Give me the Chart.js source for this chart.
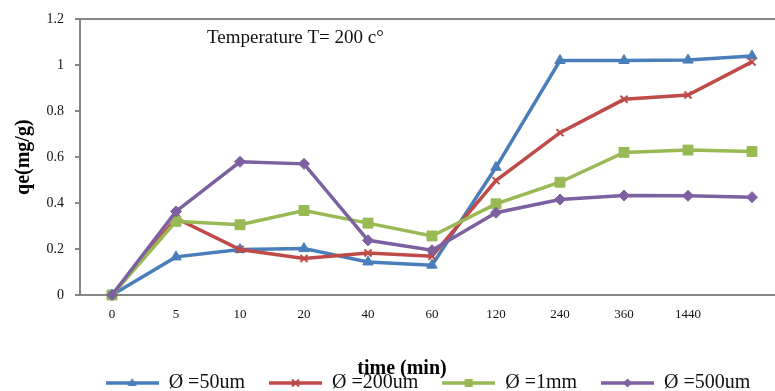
<!DOCTYPE html>
<html>
<head>
<meta charset="utf-8">
<script src="https://cdn.jsdelivr.net/npm/chart.js@4.4.0/dist/chart.umd.min.js"></script>
<style>
  html, body { margin: 0; padding: 0; background: #fff; overflow: hidden; }
  #wrap { width: 856px; height: 403px; }
</style>
</head>
<body>
<div id="wrap"><canvas id="qeChart" width="856" height="403"></canvas></div>
<script>
// ---- DATA ----
const TIME_LABELS = ['0', '5', '10', '20', '40', '60', '120', '240', '360', '1440', ''];
const SERIES_NAMES = ['Ø =50um', 'Ø =200um', 'Ø =1mm', 'Ø =500um'];
const QE_50UM = [0, 0.166, 0.198, 0.202, 0.144, 0.130, 0.556, 1.021, 1.021, 1.023, 1.041];
const QE_200UM = [0, 0.334, 0.198, 0.159, 0.183, 0.169, 0.498, 0.707, 0.852, 0.871, 1.015];
const QE_1MM = [0, 0.321, 0.306, 0.368, 0.313, 0.257, 0.397, 0.491, 0.621, 0.631, 0.625];
const QE_500UM = [0, 0.364, 0.580, 0.571, 0.238, 0.195, 0.358, 0.416, 0.433, 0.432, 0.426];
const Y_TICK_LABELS = ['0', '0.2', '0.4', '0.6', '0.8', '1', '1.2'];
const NOTE_TEXT = 'Temperature T= 200 c°';

const AXIS_GREY = '#868686';
const SERIF = '"Liberation Serif", "DejaVu Serif", serif';

// LEGEND ICON: SHORT LINE WITH THE MARKER IN THE MIDDLE
function legendIcon(color, shape) {
    const c = document.createElement('canvas');
    c.width = 53;
    c.height = 14;
    const g = c.getContext('2d');
    g.strokeStyle = color;
    g.fillStyle = color;
    g.lineWidth = 3.5;
    g.beginPath();
    g.moveTo(0, 7);
    g.lineTo(53, 7);
    g.stroke();
    const x = 26.5, y = 7;
    g.beginPath();
    if (shape === 'triangle') {
        g.moveTo(x, y - 5); g.lineTo(x + 4.5, y + 3); g.lineTo(x - 4.5, y + 3); g.closePath(); g.fill();
    } else if (shape === 'crossRot') {
        g.lineWidth = 2;
        g.moveTo(x - 3.5, y - 3.5); g.lineTo(x + 3.5, y + 3.5);
        g.moveTo(x + 3.5, y - 3.5); g.lineTo(x - 3.5, y + 3.5);
        g.stroke();
    } else if (shape === 'rect') {
        g.fillRect(x - 4, y - 4, 8, 8);
    } else {
        g.moveTo(x, y - 4.5); g.lineTo(x + 4.5, y); g.lineTo(x, y + 4.5); g.lineTo(x - 4.5, y); g.closePath(); g.fill();
    }
    return c;
}

function series(label, values, color, shape, radius, order) {
    return {
        label: label,
        data: values,
        borderColor: color,
        backgroundColor: color,
        borderWidth: 3.5,
        pointStyle: shape,
        pointRadius: radius,
        pointBorderWidth: shape === 'crossRot' ? 2 : 1,
        pointBorderColor: color,
        pointBackgroundColor: color,
        tension: 0,
        clip: false,
        order: order,
        icon: legendIcon(color, shape)
    };
}

// TEXT NOTE INSIDE THE PLOT
const notePlugin = {
    id: 'note',
    afterDraw(chart) {
        const { ctx, chartArea } = chart;
        ctx.save();
        ctx.font = '19px ' + SERIF;
        ctx.fillStyle = '#111';
        ctx.textBaseline = 'middle';
        ctx.fillText(NOTE_TEXT, chartArea.left + 127, chartArea.top + 19);
        ctx.restore();
    }
};

var ctx = document.getElementById('qeChart');
var myChart = new Chart(ctx, {
    type: 'line',
    data: {
        labels: TIME_LABELS,
        datasets: [
            series(SERIES_NAMES[0], QE_50UM, '#4A7EBB', 'triangle', 6, 4),
            series(SERIES_NAMES[1], QE_200UM, '#BE4B48', 'crossRot', 5, 3),
            series(SERIES_NAMES[2], QE_1MM, '#98B954', 'rect', 7, 2),
            series(SERIES_NAMES[3], QE_500UM, '#7D60A0', 'rectRot', 5.5, 1)
        ]
    },
    options: {
        responsive: false,
        animation: false,
        layout: { padding: { top: 18, left: 0, right: 0, bottom: 0 } },
        plugins: {
            tooltip: { enabled: false },
            legend: {
                position: 'bottom',
                labels: {
                    usePointStyle: true,
                    pointStyleWidth: 53,
                    padding: 24,
                    color: '#111',
                    font: { family: SERIF, size: 20 },
                    sort: (a, b) => a.datasetIndex - b.datasetIndex,
                    generateLabels: (chart) => {
                        const items = Chart.defaults.plugins.legend.labels.generateLabels(chart);
                        items.forEach(item => {
                            item.pointStyle = chart.data.datasets[item.datasetIndex].icon;
                        });
                        return items;
                    }
                }
            }
        },
        scales: {
            x: {
                type: 'category',
                offset: true,
                grid: { display: false, drawTicks: false },
                border: { display: true, color: AXIS_GREY, width: 2 },
                ticks: { padding: 12, color: '#111', autoSkip: false, maxRotation: 0, font: { family: SERIF, size: 13 } },
                title: {
                    display: true,
                    text: 'time (min)            ',
                    color: '#000',
                    font: { family: SERIF, size: 20, weight: 'bold' },
                    padding: { top: 0, bottom: -32 }
                },
                afterFit(scale) { scale.height = 54; }
            },
            y: {
                min: 0,
                max: 1.2,
                ticks: {
                    stepSize: 0.2,
                    padding: 11,
                    color: '#111',
                    font: { family: SERIF, size: 14 },
                    callback: (v, i) => Y_TICK_LABELS[i]
                },
                grid: {
                    color: (c) => (c.tick && c.tick.value > 1.19 ? AXIS_GREY : 'rgba(0,0,0,0)'),
                    tickColor: AXIS_GREY,
                    lineWidth: 2,
                    tickLength: 5
                },
                border: { color: AXIS_GREY, width: 2 },
                title: {
                    display: true,
                    text: 'qe(mg/g)',
                    color: '#000',
                    font: { family: SERIF, size: 20, weight: 'bold' },
                    padding: { top: 12, bottom: 0 }
                },
                afterFit(scale) { scale.width = 80; }
            },
            // EMPTY RIGHT BOX SO THE LEGEND CENTRES LIKE THE ORIGINAL
            spacer: {
                type: 'linear',
                position: 'right',
                display: true,
                grid: { display: false },
                border: { display: false },
                ticks: { display: false },
                afterFit(scale) { scale.width = 72; }
            }
        }
    },
    plugins: [notePlugin]
});
</script>
</body>
</html>
